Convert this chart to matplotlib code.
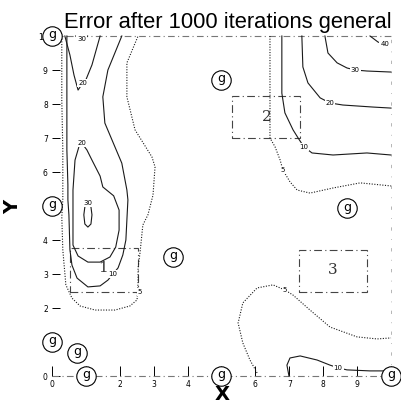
import numpy as np
import matplotlib
matplotlib.use("Agg")
import matplotlib.pyplot as plt
from matplotlib.patches import Rectangle

# =========================
# DATA (grid units 0..10)
# =========================
TITLE = "Error after 1000 iterations general"
X_TICKS = list(range(11))
Y_TICKS = list(range(11))
# labels hidden under the boundary markers are left blank
X_TICK_LABELS = ["0", "", "2", "3", "4", "", "6", "7", "8", "9", ""]
Y_TICK_LABELS = ["0", "", "2", "3", "4", "5", "6", "7", "8", "9", "10"]

# left lobe
c5_left_x = [0.29, 0.29, 0.32, 0.32, 0.29, 0.32, 0.41, 0.59, 0.83, 1.27, 1.86, 2.30, 2.51,
             2.54, 2.54, 2.60, 2.68, 2.83, 2.98, 3.04, 2.95, 2.45, 2.21, 2.21, 2.54]
c5_left_y = [10.0, 8.12, 6.65, 5.18, 4.68, 3.71, 2.68, 2.29, 2.06, 1.94, 1.94, 2.06, 2.24,
             2.76, 3.18, 3.65, 4.44, 4.74, 5.32, 6.15, 6.44, 7.24, 8.21, 9.21, 10.0]

c10_left_x = [0.44, 0.44, 0.44, 0.47, 0.47, 0.50, 0.53, 0.59, 0.74, 1.06, 1.42, 1.65, 1.80,
              1.95, 2.09, 2.18, 2.21, 2.24, 2.21, 2.06, 1.56, 1.50, 1.65, 2.06]
c10_left_y = [10.0, 8.12, 6.65, 5.62, 5.18, 4.74, 3.71, 3.26, 2.88, 2.62, 2.65, 2.82, 3.00,
              3.18, 3.56, 4.00, 4.59, 5.18, 5.47, 6.26, 7.44, 8.21, 9.00, 10.0]

c20_low_x = [0.88, 0.80, 0.68, 0.62, 0.62, 0.62, 0.77, 1.06, 1.42, 1.71, 1.88, 1.98, 1.98,
             1.82, 1.50, 1.42, 1.18, 1.03, 0.88]
c20_low_y = [6.85, 6.76, 6.35, 5.47, 4.59, 3.85, 3.53, 3.35, 3.35, 3.50, 3.79, 4.29, 4.88,
             5.30, 5.56, 5.88, 6.35, 6.65, 6.85]

c30_low_x = [1.06, 1.15, 1.18, 1.15, 1.06, 0.97, 0.94, 0.97, 1.06]
c30_low_y = [5.09, 4.97, 4.74, 4.47, 4.38, 4.47, 4.74, 4.97, 5.09]

c20_top_x = [0.38, 0.53, 0.65, 0.77, 0.91, 1.00, 1.18, 1.42]
c20_top_y = [10.0, 9.44, 8.85, 8.41, 8.62, 8.71, 9.15, 10.0]

c30_top_x = [0.70, 0.80, 0.95, 1.05]
c30_top_y = [10.0, 9.90, 9.90, 10.0]

# upper right corner
c5_ur_x = [6.43, 6.43, 6.43, 6.58, 6.73, 6.81, 7.02, 7.23, 7.61, 8.29, 9.09, 10.0]
c5_ur_y = [10.0, 8.71, 7.00, 6.74, 6.35, 6.06, 5.71, 5.47, 5.38, 5.53, 5.68, 5.59]

c10_ur_x = [6.78, 6.78, 6.87, 7.11, 7.26, 7.43, 7.67, 8.29, 9.29, 10.0]
c10_ur_y = [10.0, 8.32, 7.74, 7.24, 7.00, 6.74, 6.56, 6.50, 6.56, 6.50]

c20_ur_x = [7.37, 7.40, 7.55, 7.91, 8.20, 8.58, 9.47, 10.0]
c20_ur_y = [10.0, 9.09, 8.62, 8.18, 8.03, 7.97, 7.91, 7.88]

c30_ur_x = [8.05, 8.14, 8.41, 8.70, 8.94, 9.29, 10.0]
c30_ur_y = [10.0, 9.50, 9.21, 9.06, 9.00, 8.97, 8.94]

c40_ur_x = [9.38, 9.62, 9.82]
c40_ur_y = [10.0, 9.82, 9.76]

# lower right corner
c5_lr_x = [6.05, 5.84, 5.63, 5.49, 5.63, 6.05, 6.52, 6.87, 7.11, 7.61, 8.20, 9.00, 9.59, 10.0]
c5_lr_y = [0.09, 0.47, 0.97, 1.56, 2.15, 2.59, 2.68, 2.53, 2.38, 1.94, 1.44, 1.15, 1.09, 1.12]

c10_lr_x = [6.99, 6.93, 7.02, 7.32, 7.82, 8.20, 8.44, 8.70, 9.38, 9.82]
c10_lr_y = [0.00, 0.32, 0.53, 0.59, 0.47, 0.32, 0.24, 0.18, 0.15, 0.15]

# (level, xs, ys, label position)
contours = [
    (5, c5_left_x, c5_left_y, (2.60, 2.47)),
    (10, c10_left_x, c10_left_y, (1.80, 3.00)),
    (20, c20_low_x, c20_low_y, (0.88, 6.85)),
    (30, c30_low_x, c30_low_y, (1.06, 5.09)),
    (20, c20_top_x, c20_top_y, (0.91, 8.62)),
    (30, c30_top_x, c30_top_y, (0.88, 9.90)),
    (5, c5_ur_x, c5_ur_y, (6.81, 6.06)),
    (10, c10_ur_x, c10_ur_y, (7.43, 6.74)),
    (20, c20_ur_x, c20_ur_y, (8.20, 8.03)),
    (30, c30_ur_x, c30_ur_y, (8.94, 9.00)),
    (40, c40_ur_x, c40_ur_y, (9.82, 9.76)),
    (5, c5_lr_x, c5_lr_y, (6.87, 2.53)),
    (10, c10_lr_x, c10_lr_y, (8.44, 0.24)),
]

# subdomain boxes: name, x0, x1, y0, y1, label pos
box_names = ["1", "2", "3"]
box_x0 = [0.53, 5.31, 7.29]
box_x1 = [2.54, 7.32, 9.29]
box_y0 = [2.47, 7.00, 2.47]
box_y1 = [3.76, 8.24, 3.71]
box_label_x = [1.50, 6.34, 8.29]
box_label_y = [3.18, 7.62, 3.12]

# 'g' markers
g_x = [0.0, 0.0, 0.0, 1.0, 5.0, 10.0, 4.99, 8.70, 3.57, 0.74]
g_y = [10.0, 5.0, 1.0, 0.0, 0.0, 0.0, 8.71, 4.94, 3.50, 0.68]

# =========================
# PLOT
# =========================
fig = plt.figure(figsize=(4.01, 4.04), dpi=100)
W, H = 401, 404
ax = fig.add_axes([36.7 / W, 11 / H, 362.8 / W, 367.2 / H])
ax.set_xlim(-0.45, 10.25)
ax.set_ylim(-0.5, 10.3)

for side in ["top", "right"]:
    ax.spines[side].set_visible(False)
for side in ["left", "bottom"]:
    ax.spines[side].set_position(("data", 0))
    ax.spines[side].set_color("none")

ax.set_xticks(X_TICKS, X_TICK_LABELS)
ax.set_yticks(Y_TICKS, Y_TICK_LABELS)
ax.tick_params(axis="x", direction="in", length=7, width=0.7, pad=3, labelsize=5.5)
ax.tick_params(axis="y", direction="in", length=6, width=0.7, pad=3, labelsize=5.5)

# domain frame (dash-dot)
frame_kw = dict(color="#777777", lw=0.8, linestyle=(0, (6, 3, 1, 3)), clip_on=False)
ax.plot([0, 10], [10, 10], **frame_kw)
ax.plot([0, 10], [0, 0], **frame_kw)
ax.plot([10, 10], [0, 10], color="#aaaaaa", lw=0.6, linestyle=(0, (4, 10, 1, 10)), clip_on=False)

# contours
for level, xs, ys, (lx, ly) in contours:
    ls = (0, (1, 1.4)) if level == 5 else "-"
    ax.plot(xs, ys, color="#1a1a1a", lw=0.8, linestyle=ls, clip_on=False)
    ax.text(lx, ly, str(level), fontsize=5, ha="center", va="center",
            bbox=dict(boxstyle="square,pad=0.15", fc="white", ec="none"))

# boxes
for name, x0, x1, y0, y1, tx, ty in zip(box_names, box_x0, box_x1, box_y0, box_y1,
                                       box_label_x, box_label_y):
    ax.add_patch(Rectangle((x0, y0), x1 - x0, y1 - y0, fill=False, ec="#444444", lw=0.8,
                           linestyle=(0, (7, 3, 1, 3))))
    ax.text(tx, ty, name, fontsize=11, ha="center", va="center", color="#333333",
            family="DejaVu Serif", fontweight="light")

# g markers: open circle + letter
ax.plot(g_x, g_y, "o", ms=14, mfc="white", mec="black", mew=0.8, clip_on=False, zorder=4)
for gx, gy in zip(g_x, g_y):
    ax.text(gx, gy + 0.03, "g", fontsize=9, ha="center", va="center", zorder=5)

fig.text(392 / W, 1 - 28 / H, TITLE, fontsize=15.8, family="Liberation Sans",
         ha="right", va="baseline")
fig.text(13 / W, 1 - 207 / H, "Y", fontsize=14, fontweight="bold", rotation=90,
         ha="center", va="center")
fig.text(222 / W, 1 - 394 / H, "X", fontsize=14, fontweight="bold",
         ha="center", va="center")

fig.savefig("out.png", dpi=100)
